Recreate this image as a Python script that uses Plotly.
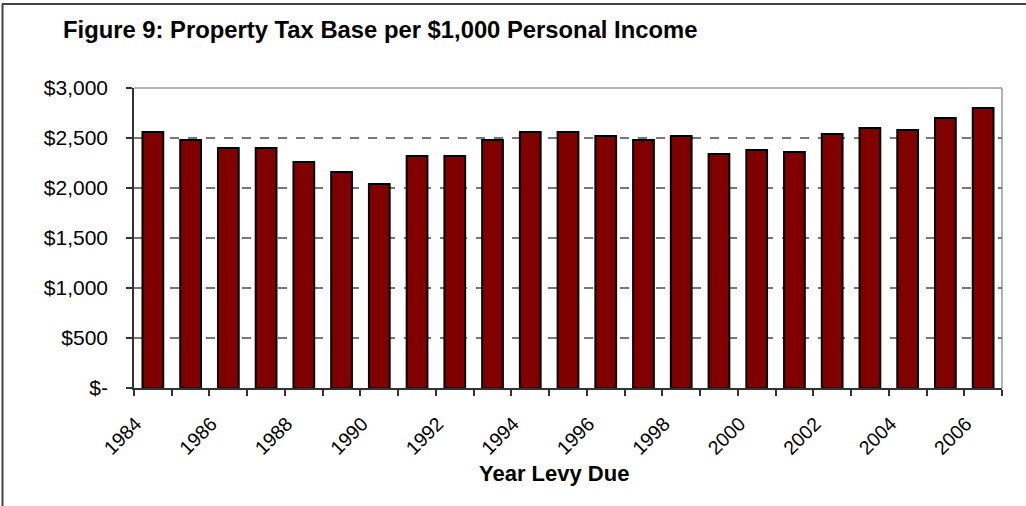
import plotly.graph_objects as go

years = list(range(1984, 2007))
values = [2560, 2480, 2400, 2400, 2260, 2160, 2040, 2320, 2320, 2480, 2560, 2560,
          2520, 2480, 2520, 2340, 2380, 2360, 2540, 2600, 2580, 2700, 2800]
y_tickvals = [0, 500, 1000, 1500, 2000, 2500, 3000]
y_ticktext = ["$-", "$500", "$1,000", "$1,500", "$2,000", "$2,500", "$3,000"]
x_labelyears = list(range(1984, 2007, 2))
x_ticktext = [str(y) for y in x_labelyears]

W, H = 1026, 506
L, R, T, B = 134, 24, 87.5, 118
pw, ph = W - L - R, H - T - B

def px(x):
    return (x - L) / pw

def py(y):
    return (H - B - y) / ph

LABEL_SHIFT = -0.45  # rotated labels sit slightly left of category centre

fig = go.Figure()
fig.add_trace(go.Bar(
    x=years, y=values, width=0.55,
    marker=dict(color="#800000", line=dict(color="#000000", width=2)),
    hoverinfo="x+y",
))

fig.update_layout(
    width=W, height=H,
    margin=dict(l=L, r=R, t=T, b=B, autoexpand=False),
    paper_bgcolor="white", plot_bgcolor="white",
    showlegend=False,
    font=dict(family="Liberation Sans, Arial, sans-serif", color="#000000"),
    title=dict(
        text="<b>Figure 9: Property Tax Base per $1,000 Personal Income</b>",
        x=63 / W, xref="container", xanchor="left",
        y=1 - 30 / H, yref="container", yanchor="middle",
        font=dict(size=23.8, color="#000000"),
    ),
    xaxis=dict(
        range=[1983.5, 2006.5],
        tickmode="array", tickvals=[y + LABEL_SHIFT for y in x_labelyears],
        ticktext=x_ticktext,
        tickangle=-45, ticks="", showgrid=False, zeroline=False,
        tickfont=dict(size=19.5), ticklabelstandoff=15,
        showline=True, linecolor="#333333", linewidth=1.5,
        minor=dict(tick0=1983.5, dtick=1, ticks="outside", ticklen=6,
                   tickcolor="#333333", tickwidth=1.5, showgrid=False),
    ),
    yaxis=dict(
        range=[0, 3000],
        tickmode="array", tickvals=y_tickvals, ticktext=y_ticktext,
        ticks="outside", ticklen=6, tickcolor="#333333", tickwidth=1.5,
        tickfont=dict(size=21), ticklabelstandoff=14,
        showline=True, linecolor="#333333", linewidth=1.5,
        showgrid=True, gridcolor="#777777", griddash="dash", gridwidth=1.5,
        zeroline=False,
    ),
)

# plot area border (top and right), lighter gray
fig.add_shape(type="line", xref="paper", yref="paper", x0=0, x1=1, y0=1, y1=1,
              line=dict(color="#999999", width=1.5), layer="below")
fig.add_shape(type="line", xref="paper", yref="paper", x0=1, x1=1, y0=0, y1=1,
              line=dict(color="#999999", width=1.5), layer="below")

# outer chart frame: left edge
fig.add_shape(type="line", xref="paper", yref="paper",
              x0=px(2.5), x1=px(2.5), y0=py(3.5), y1=py(H + 20),
              line=dict(color="#444444", width=2), layer="above")

fig.add_annotation(
    text="<b>Year Levy Due</b>", xref="paper", yref="paper",
    x=px(554), y=py(474), xanchor="center", yanchor="middle",
    showarrow=False, font=dict(size=22, color="#000000"),
)

# outer chart frame: top edge drawn as a thin overlay line
post = (
    "document.body.style.margin='0px';document.body.style.padding='0px';"
    "var fr=document.createElement('div');"
    "fr.style.cssText='position:absolute;left:2px;top:3px;width:1024px;height:2px;"
    "background:#444444;pointer-events:none;z-index:10;';"
    "document.body.appendChild(fr);"
)

fig.write_html("out.html", config={"displayModeBar": False}, post_script=post)
